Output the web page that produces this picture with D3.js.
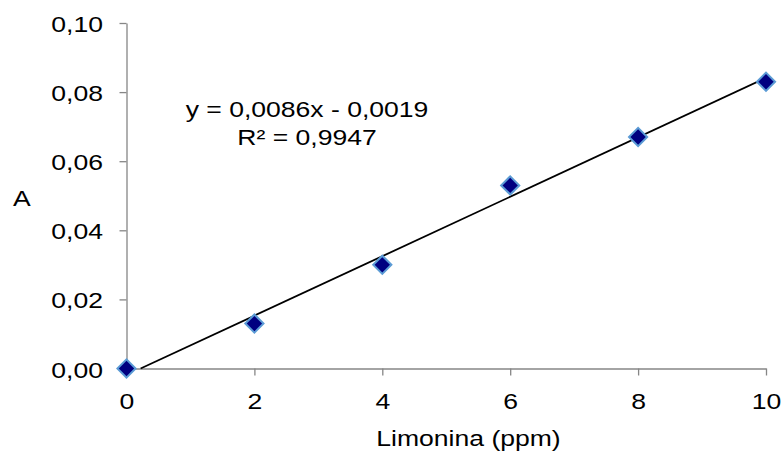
<!DOCTYPE html>
<html>
<head>
<meta charset="utf-8">
<script src="https://cdn.jsdelivr.net/npm/d3@7"></script>
<style>
  html, body { margin: 0; padding: 0; background: #fff; }
  svg { display: block; }
  text { font-family: "Liberation Sans", Arial, sans-serif; fill: #000; }
</style>
</head>
<body>
<svg id="chart" width="784" height="455"></svg>
<script>
// Data
const concentrations = [0, 2, 4, 6, 8, 10];
const absorbance = [0.000, 0.013, 0.030, 0.053, 0.067, 0.083];
const xTicks = [0, 2, 4, 6, 8, 10];
const yTicks = [0.00, 0.02, 0.04, 0.06, 0.08, 0.10];
const slope = 0.0086;
const intercept = -0.0019;
const equationLines = ["y = 0,0086x - 0,0019", "R² = 0,9947"];
const xTitle = "Limonina (ppm)";
const yTitle = "A";

const svg = d3.select("#chart");
const axisColor = "#868686";
const fs = 22.5, sx = 1.18;

const x = d3.scaleLinear().domain([0, 10]).range([126.5, 766]);
const y = d3.scaleLinear().domain([0, 0.10]).range([368.5, 23]);

const fmtY = v => d3.format(".2f")(v).replace(".", ",");

// Y axis
const gy = svg.append("g").attr("transform", `translate(${x(0)},0)`)
  .call(d3.axisLeft(y).tickValues(yTicks).tickFormat(fmtY).tickSize(7).tickPadding(13).tickSizeOuter(0));
gy.select(".domain").attr("stroke", axisColor).attr("stroke-width", 1.3);
gy.selectAll(".tick line").attr("stroke", axisColor).attr("stroke-width", 1.3);
gy.selectAll(".tick text").attr("font-size", fs).attr("font-family", "Liberation Sans, Arial, sans-serif")
  .attr("fill", "#000").attr("dy", "0.38em")
  .attr("transform", `scale(${sx},1)`);

// X axis
const gx = svg.append("g").attr("transform", `translate(0,${y(0)})`)
  .call(d3.axisBottom(x).tickValues(xTicks).tickFormat(d3.format("d")).tickSize(7).tickPadding(18).tickSizeOuter(0));
gx.select(".domain").attr("stroke", axisColor).attr("stroke-width", 1.3);
gx.selectAll(".tick line").attr("stroke", axisColor).attr("stroke-width", 1.3);
gx.selectAll(".tick text").attr("font-size", fs).attr("font-family", "Liberation Sans, Arial, sans-serif")
  .attr("fill", "#000")
  .attr("transform", `scale(${sx},1)`);

// Trendline
const x0 = -intercept / slope;
const trend = [x0, 10].map(v => [v, slope * v + intercept]);
svg.append("path")
  .attr("d", d3.line().x(d => x(d[0])).y(d => y(d[1]))(trend))
  .attr("stroke", "#000").attr("stroke-width", 1.8).attr("fill", "none");

// Markers
const sym = d3.symbol().type(d3.symbolSquare).size(165);
svg.append("g").selectAll("path").data(concentrations).join("path")
  .attr("d", sym)
  .attr("transform", (d, i) => `translate(${x(d)},${y(absorbance[i])}) rotate(45)`)
  .attr("fill", "#000080")
  .attr("stroke", "#5B9BD5")
  .attr("stroke-width", 2);

// Equation
equationLines.forEach((t, i) => {
  svg.append("text")
    .attr("transform", `translate(307,${117 + i * 28}) scale(${sx},1)`)
    .attr("text-anchor", "middle").attr("font-size", fs).text(t);
});

// Axis titles
svg.append("text")
  .attr("transform", `translate(468.5,446) scale(${sx},1)`)
  .attr("text-anchor", "middle").attr("font-size", fs).text(xTitle);
svg.append("text")
  .attr("transform", `translate(13,206) scale(${sx},1)`)
  .attr("font-size", fs).text(yTitle);
</script>
</body>
</html>
